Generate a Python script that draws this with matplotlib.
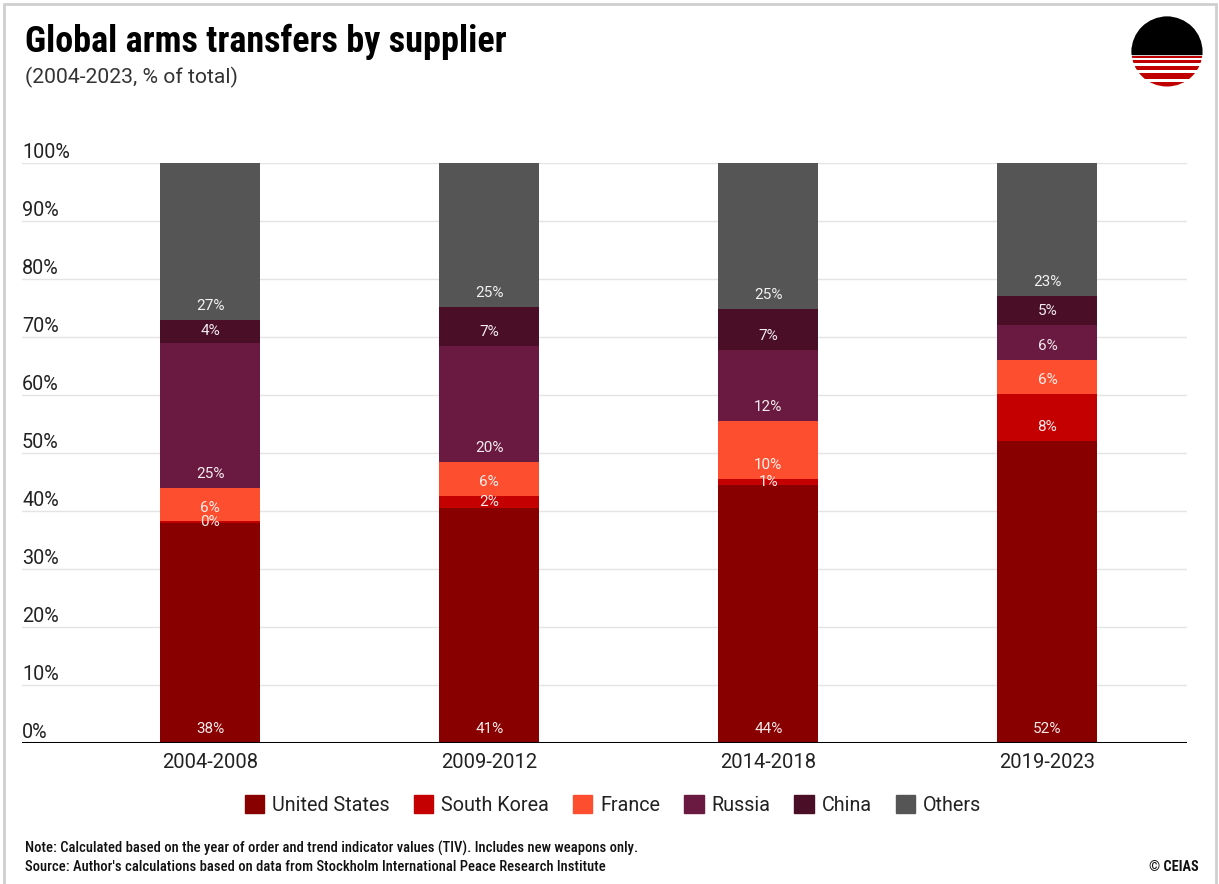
import matplotlib
matplotlib.use("Agg")
import matplotlib.pyplot as plt
from matplotlib.patches import Rectangle, Circle
from matplotlib.transforms import blended_transform_factory, offset_copy

# ---- data -------------------------------------------------------------
periods = ["2004-2008", "2009-2012", "2014-2018", "2019-2023"]
suppliers = ["United States", "South Korea", "France", "Russia", "China", "Others"]
united_states = [38.0, 40.6, 44.4, 52.1]
south_korea = [0.2, 2.0, 1.1, 8.0]
france = [5.7, 5.9, 10.1, 5.9]
russia = [25.1, 19.9, 12.2, 6.1]
china = [3.9, 6.8, 7.0, 5.0]
others = [27.1, 24.8, 25.2, 22.9]
yticks = [0, 10, 20, 30, 40, 50, 60, 70, 80, 90, 100]

series = [united_states, south_korea, france, russia, china, others]
colors = ["#880000", "#c40000", "#fd4f2f", "#6a1940", "#4a0e27", "#555555"]

plt.rcParams["font.family"] = ["Roboto", "DejaVu Sans"]
COND = ["Roboto Condensed", "Liberation Sans Narrow", "Roboto", "DejaVu Sans"]

W, H = 1219, 884
fig = plt.figure(figsize=(W / 100, H / 100), dpi=100)
fig.patch.set_facecolor("white")

# frame around the graphic
fig.add_artist(Rectangle((4 / W, -0.01), (1216 - 4) / W, 1.01 - 4 / H,
                         transform=fig.transFigure, fill=False,
                         edgecolor="#cfcfcf", lw=2))

ax = fig.add_axes([22 / W, 1 - 743 / H, (1187 - 22) / W, (743 - 163) / H])
ax.set_xlim(-0.674, 3.5)
ax.set_ylim(0, 100)
for s in ax.spines.values():
    s.set_visible(False)

# gridlines
ax.set_yticks(yticks)
ax.yaxis.grid(True, color="#e4e4e4", lw=1)
ax.set_axisbelow(True)
ax.tick_params(axis="y", left=False, labelleft=False)
ax.axhline(0, color="black", lw=2.2, zorder=5)

trans = blended_transform_factory(ax.transAxes, ax.transData)
trans_up = offset_copy(trans, fig=fig, x=0, y=5, units="dots")
for v in yticks:
    ax.text(0, v, f"{v}%", transform=trans_up, ha="left", va="baseline",
            fontsize=14.2, color="#222222")

# stacked bars
x = list(range(len(periods)))
bw = 0.358
bottoms = [0.0] * len(periods)
for name, vals, col in zip(suppliers, series, colors):
    ax.bar(x, vals, bw, bottom=bottoms, color=col, label=name, zorder=3,
           linewidth=0)
    for i, v in enumerate(vals):
        b = bottoms[i]
        ly = min(b + 2.4, b + v / 2)
        ax.text(x[i], ly, f"{v:.0f}%", ha="center", va="center",
                fontsize=11, color="white", alpha=0.92, zorder=6)
    bottoms = [b + v for b, v in zip(bottoms, vals)]

ax.set_xticks(x)
ax.set_xticklabels(periods, fontsize=14.5, color="#222222")
ax.tick_params(axis="x", length=0, pad=7)

# legend
handles = [Rectangle((0, 0), 1, 1, color=c) for c in colors]
fig.legend(handles, suppliers, loc="center", bbox_to_anchor=(0.503, 1 - 805 / H),
           ncol=6, frameon=False, fontsize=14.2, handlelength=1.0,
           handleheight=1.0, handletextpad=0.4, columnspacing=1.2,
           labelcolor="#222222")

# titles
fig.text(25 / W, 1 - 52 / H, "Global arms transfers by supplier",
         family=COND, fontweight="bold", fontsize=26, color="black",
         ha="left", va="baseline")
fig.text(25 / W, 1 - 83 / H, "(2004-2023, % of total)", fontsize=15.2,
         color="#333333", ha="left", va="baseline")

# notes
fig.text(25 / W, 1 - 848 / H,
         "Note: Calculated based on the year of order and trend indicator values (TIV). Includes new weapons only.",
         family=COND, fontweight="medium", fontsize=10.5, color="#111111",
         ha="left", va="center")
fig.text(25 / W, 1 - 867 / H,
         "Source: Author's calculations based on data from Stockholm International Peace Research Institute",
         family=COND, fontweight="medium", fontsize=10.5, color="#111111",
         ha="left", va="center")
fig.text(1199 / W, 1 - 867 / H, "\u00a9 CEIAS", family=COND,
         fontweight="bold", fontsize=10.3, color="#111111",
         ha="right", va="center")

# logo
lax = fig.add_axes([1131 / W, 1 - 87 / H, 72 / W, 72 / H])
lax.set_xlim(0, 72)
lax.set_ylim(72, -1)
lax.axis("off")
circ = Circle((36, 36), 35.5, transform=lax.transData, facecolor="none",
              edgecolor="none")
lax.add_patch(circ)
lax.add_patch(Rectangle((0, 0), 72, 53.5 - 15, color="black", clip_path=circ))
for y0, y1 in [(55.2, 57.8), (60.0, 63.0), (65.8, 70.2), (73.2, 78.5), (82.0, 90)]:
    lax.add_patch(Rectangle((0, y0 - 15), 72, y1 - y0, color="#c00000",
                            clip_path=circ, lw=0))

fig.savefig("out.png", dpi=100, facecolor="white")
